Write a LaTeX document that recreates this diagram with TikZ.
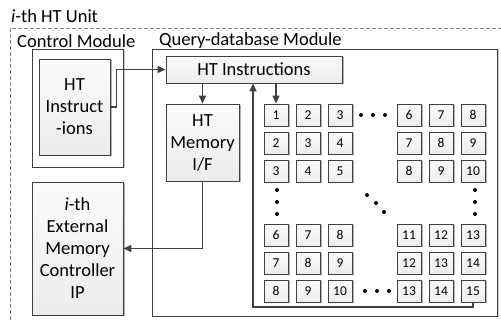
\documentclass[tikz,border=0pt]{standalone}
\usepackage{fontspec}
\setmainfont{Carlito}
\usepackage{tikz}
\usetikzlibrary{arrows.meta, positioning, shadows}
\definecolor{linegray}{HTML}{404040}
\tikzstyle{arrow} = [line width=1.2pt, draw=linegray, -{Triangle[length=8pt,width=7pt]}]

\begin{document}
\begin{tikzpicture}[
    x=1pt, y=-1pt,
    every node/.style={font=\fontsize{18.5}{22}\selectfont},
    module/.style={
        draw=linegray,
        line width=0.8pt,
        fill=white,
        inner sep=0pt,
        drop shadow={shadow xshift=1.5pt, shadow yshift=-1.5pt, fill=gray!40, opacity=1}
    },
    block/.style={
        draw=linegray,
        line width=0.8pt,
        top color=gray!3,
        bottom color=gray!15,
        align=center,
        inner sep=0pt,
        drop shadow={shadow xshift=1.5pt, shadow yshift=-1.5pt, fill=gray!60, opacity=1}
    },
    cell/.style={
        block,
        minimum width=24pt,
        minimum height=22pt,
        font=\fontsize{13.5}{15}\selectfont
    },
    title/.style={anchor=west, inner sep=0pt}
]
\useasboundingbox (0,0) rectangle (501,320);
\clip (0,0) rectangle (501,320);

% Modules
\node[draw=gray, line width=0.8pt, dash pattern=on 4pt off 2pt, minimum width=500pt, minimum height=302pt] (unit) at (260,179) {};
\node[title] (unittitle) at (11,16) {\textit{i}-th HT Unit};
\node[module, minimum width=91pt, minimum height=118pt] (ctrl) at (77.5,108) {};
\node[title] (ctrltitle) at (17,41) {Control Module};
\node[module, minimum width=345pt, minimum height=267pt] (qdm) at (324.5,182.5) {};
\node[title] (qdmtitle) at (159,41) {Query-database Module};

% Blocks
\node[block, minimum width=71pt, minimum height=96pt] (htinL) at (74.5,107) {HT\\Instruct\\-ions};
\node[block, minimum width=176pt, minimum height=27pt] (htin) at (254,69.5) {HT Instructions};
\node[block, minimum width=73pt, minimum height=77pt] (htmem) at (202.5,142.5) {HT\\Memory\\I/F};
\node[block, minimum width=91pt, minimum height=133pt] (emc) at (77.5,248.5) {\textit{i}-th\\External\\Memory\\Controller\\IP};

% Cells
\node[cell] (c11) at (276,115) {1};  \node[cell] (c12) at (308,115) {2};  \node[cell] (c13) at (340,115) {3};
\node[cell] (c14) at (409,115) {6};  \node[cell] (c15) at (441,115) {7};  \node[cell] (c16) at (473,115) {8};
\node[cell] (c21) at (276,143) {2};  \node[cell] (c22) at (308,143) {3};  \node[cell] (c23) at (340,143) {4};
\node[cell] (c24) at (409,143) {7};  \node[cell] (c25) at (441,143) {8};  \node[cell] (c26) at (473,143) {9};
\node[cell] (c31) at (276,171) {3};  \node[cell] (c32) at (308,171) {4};  \node[cell] (c33) at (340,171) {5};
\node[cell] (c34) at (409,171) {8};  \node[cell] (c35) at (441,171) {9};  \node[cell] (c36) at (473,171) {10};
\node[cell] (c41) at (276,235) {6};  \node[cell] (c42) at (308,235) {7};  \node[cell] (c43) at (340,235) {8};
\node[cell] (c44) at (409,235) {11}; \node[cell] (c45) at (441,235) {12}; \node[cell] (c46) at (473,235) {13};
\node[cell] (c51) at (276,263) {7};  \node[cell] (c52) at (308,263) {8};  \node[cell] (c53) at (340,263) {9};
\node[cell] (c54) at (409,263) {12}; \node[cell] (c55) at (441,263) {13}; \node[cell] (c56) at (473,263) {14};
\node[cell] (c61) at (276,291) {8};  \node[cell] (c62) at (308,291) {9};  \node[cell] (c63) at (340,291) {10};
\node[cell] (c64) at (409,291) {13}; \node[cell] (c65) at (441,291) {14}; \node[cell] (c66) at (473,291) {15};

% Dots
\fill (361,115) circle (2pt) (373,115) circle (2pt) (385,115) circle (2pt);
\fill (365,291) circle (2pt) (377,291) circle (2pt) (389,291) circle (2pt);
\fill (277,190) circle (2pt) (277,202) circle (2pt) (277,214) circle (2pt);
\fill (475,190) circle (2pt) (475,202) circle (2pt) (475,214) circle (2pt);
\fill (367,195) circle (2pt) (376,203) circle (2pt) (384,212) circle (2pt);

% Connections
\coordinate (ret) at (253,307);
\draw[arrow] (htinL.east) -- ++(6,0) |- (htin.west);
\draw[arrow] (htmem.north |- htin.south) -- (htmem.north);
\draw[arrow] (htmem.south) |- (emc.east);
\draw[arrow] (c11.north |- htin.south) -- (c11.north);
\draw[arrow] (c66.south) |- (ret) -- (ret |- htin.south);
\end{tikzpicture}
\end{document}
